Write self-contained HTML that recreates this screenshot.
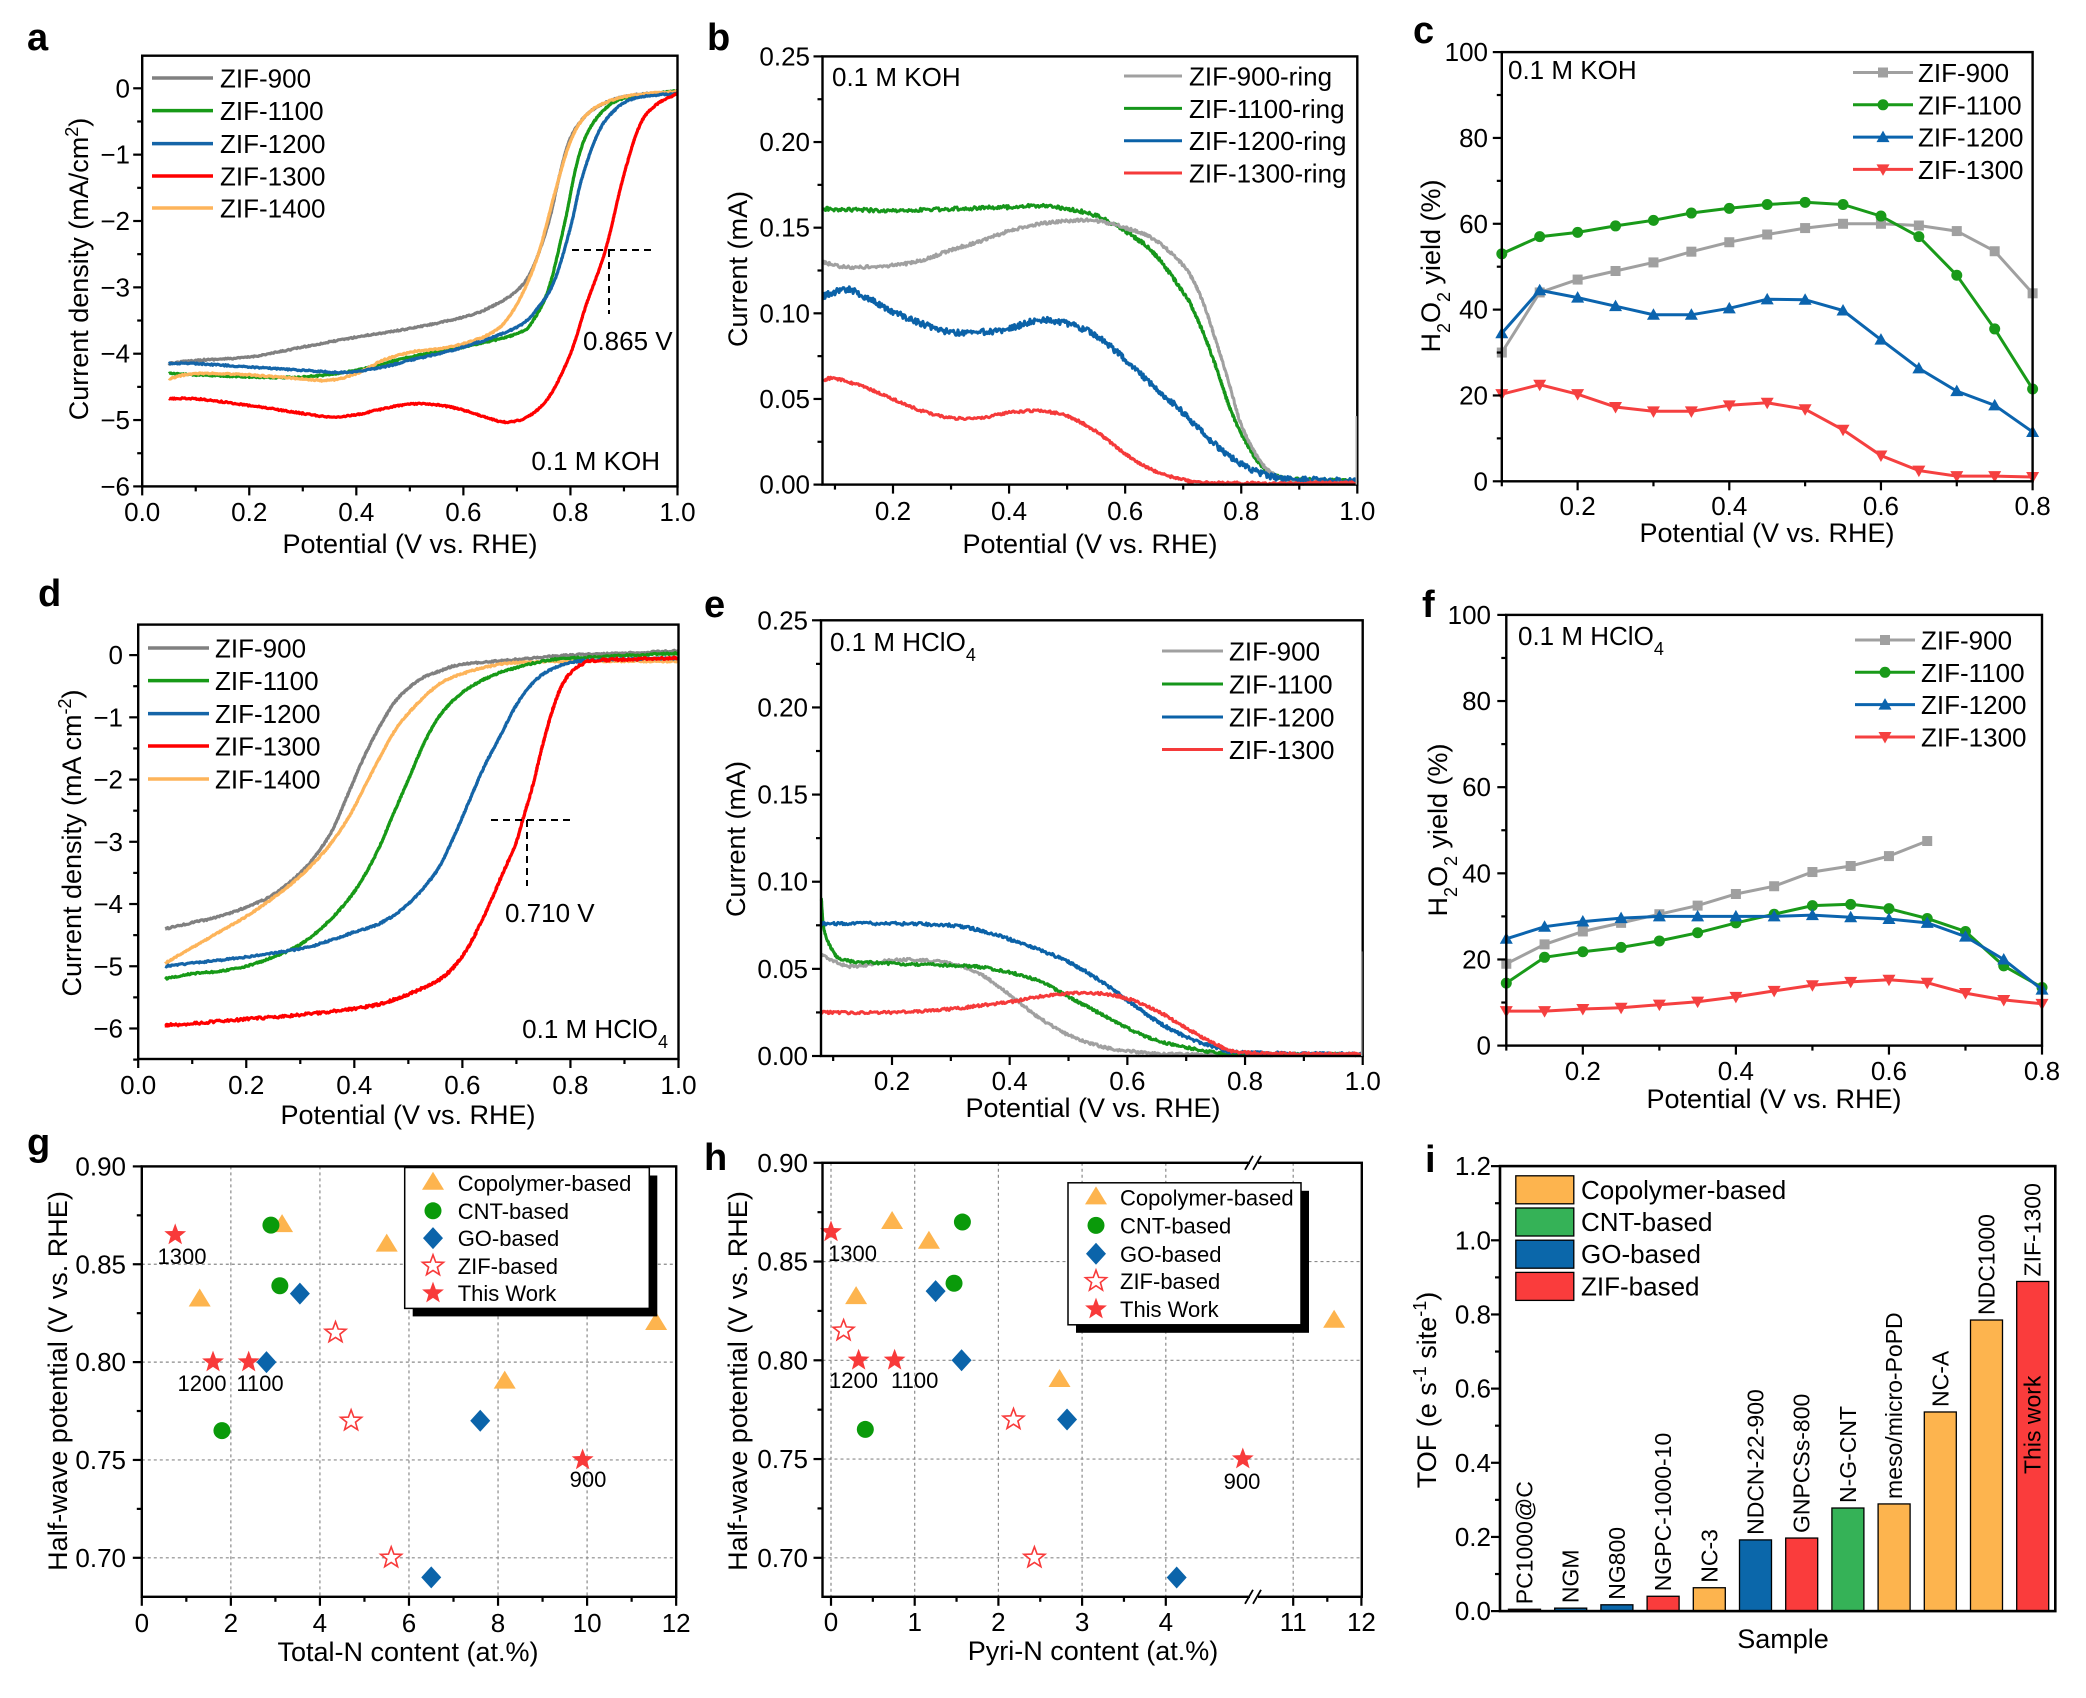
<!DOCTYPE html>
<html><head><meta charset="utf-8"><style>
html,body{margin:0;padding:0;background:#fff;}
svg{display:block;font-family:"Liberation Sans",Arial,sans-serif;}
</style></head><body>
<svg id="s" xmlns="http://www.w3.org/2000/svg" width="2086" height="1698" viewBox="0 0 2086 1698">
<rect width="2086" height="1698" fill="#fff"/>
</svg>
<script>
const NS='http://www.w3.org/2000/svg';const S=document.getElementById('s');
function E(t,a,p){const e=document.createElementNS(NS,t);for(const k in a)e.setAttribute(k,a[k]);(p||S).appendChild(e);return e;}
function L(x1,y1,x2,y2,c,w,d){const a={x1,y1,x2,y2,stroke:c||'#000','stroke-width':w||2.2};if(d)a['stroke-dasharray']=d;return E('line',a);}
function T(x,y,h,fs,anc,ex){const a=Object.assign({x,y,'font-size':fs,'text-anchor':anc||'start'},ex||{});const e=E('text',a);e.innerHTML=h;return e;}
function RT(bx,cy,h,fs,anc){const e=E('text',{transform:`translate(${bx},${cy}) rotate(-90)`,x:0,y:0,'font-size':fs,'text-anchor':anc||'middle'});e.innerHTML=h;return e;}
let seed=12345;function rnd(){seed=(seed*16807)%2147483647;return seed/2147483647;}
function P(l,r,t,b,X,Y){return {l,r,t,b,X,Y};}
function frame(p){E('rect',{x:p.l,y:p.t,width:p.r-p.l,height:p.b-p.t,fill:'none',stroke:'#000','stroke-width':2.4});}
function xt(p,maj,mino,lab,base){maj.forEach((v,i)=>{const x=p.X(v);L(x,p.b,x,p.b+9);T(x,base,lab[i],26,'middle');});mino.forEach(v=>{const x=p.X(v);L(x,p.b,x,p.b+5);});}
function yt(p,maj,mino,lab,rx){maj.forEach((v,i)=>{const y=p.Y(v);L(p.l-9,y,p.l,y);T(rx,y+9,lab[i],26,'end');});mino.forEach(v=>{const y=p.Y(v);L(p.l-5,y,p.l,y);});}
function cr(a,b,c,d,t){return 0.5*((2*b)+(-a+c)*t+(2*a-5*b+4*c-d)*t*t+(-a+3*b-3*c+d)*t*t*t);}
function curve(p,pts,col,noise,w){let d='';const n=pts.length;
 for(let i=0;i<n-1;i++){const p0=pts[Math.max(0,i-1)],p1=pts[i],p2=pts[i+1],p3=pts[Math.min(n-1,i+2)];
  const len=Math.abs(p.X(p2[0])-p.X(p1[0]))+Math.abs(p.Y(p2[1])-p.Y(p1[1]));const m=Math.max(2,Math.ceil(len/1.2));
  for(let k=0;k<m;k++){const t=k/m;const x=p.X(cr(p0[0],p1[0],p2[0],p3[0],t));const y=p.Y(cr(p0[1],p1[1],p2[1],p3[1],t))+(rnd()-0.5)*2*noise;
   d+=(d?'L':'M')+x.toFixed(1)+','+y.toFixed(1);}}
 d+='L'+p.X(pts[n-1][0]).toFixed(1)+','+p.Y(pts[n-1][1]).toFixed(1);
 E('path',{d,fill:'none',stroke:col,'stroke-width':w||3.2,'stroke-linejoin':'round'});}
function mark(type,x,y,col,s){s=s||1;
 if(type=='sq')E('rect',{x:x-5*s,y:y-5*s,width:10*s,height:10*s,fill:col});
 else if(type=='ci')E('circle',{cx:x,cy:y,r:5.5*s,fill:col});
 else if(type=='tu')E('polygon',{points:`${x},${y-6.5*s} ${x-6.5*s},${y+5*s} ${x+6.5*s},${y+5*s}`,fill:col});
 else if(type=='td')E('polygon',{points:`${x},${y+6.5*s} ${x-6.5*s},${y-5*s} ${x+6.5*s},${y-5*s}`,fill:col});}
function star(cx,cy,R,fill,stroke){let pts=[];for(let i=0;i<10;i++){const r=i%2?R*0.42:R;const a=-Math.PI/2+i*Math.PI/5;pts.push((cx+r*Math.cos(a)).toFixed(1)+','+(cy+r*Math.sin(a)).toFixed(1));}
 E('polygon',{points:pts.join(' '),fill:fill,stroke:stroke||'none','stroke-width':1.6});}
function series(p,xs,ys,col,type){const pts=ys.map((v,i)=>[xs[i],v]);
 E('polyline',{points:pts.map(q=>p.X(q[0]).toFixed(1)+','+p.Y(q[1]).toFixed(1)).join(' '),fill:'none',stroke:col,'stroke-width':3});
 pts.forEach(q=>mark(type,p.X(q[0]),p.Y(q[1]),col));}
function range(a,b,s){const r=[];for(let v=a;v<=b+1e-9;v+=s)r.push(+v.toFixed(4));return r;}
function bold(x,y,t){T(x,y,t,38,'start',{'font-weight':'bold'});}
const sub=s=>`<tspan baseline-shift="sub" font-size="18">${s}</tspan>`;
const sup=s=>`<tspan baseline-shift="super" font-size="18">${s}</tspan>`;

/* ---------- a ---------- */
{const p=P(142.2,677.5,55.7,486.4,v=>142.2+535.3*v,j=>88.3-66.35*j);
const C={g:'#808080',gr:'#179a17',b:'#1565a8',r:'#ff0000',o:'#fdb45a'};
curve(p,[[0.05,-4.15],[0.1,-4.1],[0.2,-4.05],[0.3,-3.9],[0.4,-3.75],[0.5,-3.62],[0.6,-3.45],[0.65,-3.3],[0.7,-3.05],[0.73,-2.7],[0.76,-2.0],[0.78,-1.3],[0.8,-0.75],[0.83,-0.4],[0.87,-0.2],[0.92,-0.1],[1.0,-0.05]],C.g,0.7);
curve(p,[[0.05,-4.3],[0.2,-4.35],[0.3,-4.35],[0.4,-4.25],[0.5,-4.05],[0.6,-3.9],[0.7,-3.7],[0.73,-3.5],[0.76,-3.0],[0.79,-2.0],[0.81,-1.2],[0.83,-0.7],[0.86,-0.35],[0.9,-0.15],[1.0,-0.04]],C.gr,0.7);
curve(p,[[0.05,-4.38],[0.1,-4.3],[0.2,-4.32],[0.3,-4.38],[0.35,-4.4],[0.4,-4.3],[0.45,-4.1],[0.5,-3.98],[0.55,-3.93],[0.6,-3.85],[0.65,-3.7],[0.68,-3.5],[0.71,-3.1],[0.74,-2.5],[0.77,-1.6],[0.8,-0.8],[0.83,-0.4],[0.87,-0.2],[0.92,-0.1],[1.0,-0.05]],C.o,0.7);
curve(p,[[0.05,-4.15],[0.1,-4.15],[0.2,-4.2],[0.3,-4.25],[0.38,-4.28],[0.45,-4.2],[0.5,-4.1],[0.6,-3.9],[0.7,-3.6],[0.74,-3.3],[0.77,-2.9],[0.8,-2.1],[0.82,-1.4],[0.85,-0.7],[0.88,-0.35],[0.92,-0.15],[1.0,-0.08]],C.b,0.7);
curve(p,[[0.05,-4.68],[0.1,-4.68],[0.2,-4.78],[0.3,-4.9],[0.35,-4.95],[0.4,-4.92],[0.45,-4.83],[0.5,-4.76],[0.55,-4.77],[0.6,-4.85],[0.65,-4.98],[0.68,-5.03],[0.72,-4.95],[0.76,-4.65],[0.8,-4.0],[0.83,-3.25],[0.865,-2.45],[0.9,-1.3],[0.93,-0.55],[0.96,-0.25],[1.0,-0.08]],C.r,0.7);
frame(p);
xt(p,[0,0.2,0.4,0.6,0.8,1.0],[0.1,0.3,0.5,0.7,0.9],['0.0','0.2','0.4','0.6','0.8','1.0'],521);
yt(p,[-6,-5,-4,-3,-2,-1,0],[-5.5,-4.5,-3.5,-2.5,-1.5,-0.5],['−6','−5','−4','−3','−2','−1','0'],130);
[['ZIF-900',C.g],['ZIF-1100',C.gr],['ZIF-1200',C.b],['ZIF-1300',C.r],['ZIF-1400',C.o]].forEach((e,i)=>{const y=[78,110.6,143.6,176,208][i];L(152,y,213,y,e[1],3.5);T(220,y+9.5,e[0],26);});
L(572,250,651,250,'#000',2,'7,5');L(609,250,609,314,'#000',2,'7,5');
T(583,350,'0.865 V',26);T(660,470,'0.1 M KOH',26,'end');
T(410,553,'Potential (V vs. RHE)',27,'middle');RT(88,269,'Current density (mA/cm'+sup('2')+')',27);
bold(27,50,'a');}

/* ---------- b ---------- */
{const p=P(822.5,1357.3,56.4,484.6,v=>893+580.4*(v-0.2),i=>484.6-1712.8*i);
const C={g:'#a0a0a0',gr:'#16961b',b:'#0b62a8',r:'#f53a3a'};
curve(p,[[0.08,0.161],[0.2,0.160],[0.3,0.161],[0.4,0.162],[0.45,0.163],[0.5,0.161],[0.55,0.157],[0.6,0.148],[0.65,0.135],[0.7,0.112],[0.72,0.10],[0.75,0.075],[0.78,0.045],[0.8,0.03],[0.83,0.013],[0.86,0.005],[0.9,0.003],[1.0,0.002]],C.gr,1.8,3);
curve(p,[[0.08,0.13],[0.12,0.127],[0.2,0.128],[0.25,0.131],[0.3,0.137],[0.35,0.142],[0.4,0.148],[0.45,0.152],[0.5,0.154],[0.55,0.154],[0.6,0.150],[0.65,0.143],[0.7,0.128],[0.73,0.11],[0.76,0.08],[0.78,0.058],[0.8,0.035],[0.83,0.015],[0.86,0.005],[0.9,0.002],[1.0,0.002]],C.g,1.5,3);
curve(p,[[0.08,0.11],[0.12,0.114],[0.15,0.11],[0.2,0.101],[0.25,0.094],[0.3,0.089],[0.35,0.089],[0.4,0.091],[0.45,0.096],[0.5,0.094],[0.55,0.087],[0.6,0.073],[0.65,0.057],[0.7,0.042],[0.75,0.025],[0.8,0.012],[0.85,0.005],[0.9,0.003],[1.0,0.002]],C.b,3,3);
curve(p,[[0.08,0.061],[0.1,0.062],[0.15,0.057],[0.2,0.05],[0.25,0.043],[0.3,0.039],[0.35,0.039],[0.4,0.042],[0.45,0.043],[0.5,0.04],[0.55,0.031],[0.6,0.018],[0.65,0.008],[0.7,0.003],[0.75,0.001],[1.0,0.001]],C.r,1.2,3);
frame(p);L(p.r-1,p.Y(0),p.r-1,p.Y(0.04),C.g,1.5);
xt(p,[0.2,0.4,0.6,0.8,1.0],[0.1,0.3,0.5,0.7,0.9],['0.2','0.4','0.6','0.8','1.0'],520);
yt(p,[0,0.05,0.1,0.15,0.2,0.25],[0.025,0.075,0.125,0.175,0.225],['0.00','0.05','0.10','0.15','0.20','0.25'],810);
[['ZIF-900-ring',C.g],['ZIF-1100-ring',C.gr],['ZIF-1200-ring',C.b],['ZIF-1300-ring',C.r]].forEach((e,i)=>{const y=[76,108.4,140.7,173][i];L(1124,y,1182,y,e[1],3);T(1189,y+9.5,e[0],26);});
T(832,86,'0.1 M KOH',26);
T(1090,553,'Potential (V vs. RHE)',27,'middle');RT(747,269,'Current (mA)',27);
bold(707,50,'b');}

/* ---------- c ---------- */
{const p=P(1501.8,2032.6,52.1,481.3,v=>1501.8+758.3*(v-0.1),q=>52.1+(100-q)*4.292);
const C={g:'#a0a0a0',gr:'#199a19',b:'#0b64ae',r:'#f54040'};const xs=range(0.1,0.8,0.05);
series(p,xs,[30,44,47,49,51,53.5,55.7,57.5,59,60,60,59.6,58.3,53.6,43.8],C.g,'sq');
series(p,xs,[53,57,58,59.5,60.8,62.5,63.6,64.5,65,64.5,61.8,57,48,35.5,21.5],C.gr,'ci');
series(p,xs,[34.5,44.5,42.8,40.8,38.8,38.8,40.3,42.4,42.3,39.8,33,26.3,21,17.7,11.5],C.b,'tu');
series(p,xs,[20.3,22.5,20.3,17.3,16.3,16.3,17.7,18.3,16.8,12,6,2.5,1.2,1.2,1.0],C.r,'td');
frame(p);
xt(p,[0.2,0.4,0.6,0.8],[0.1,0.3,0.5,0.7],['0.2','0.4','0.6','0.8'],515);
yt(p,[0,20,40,60,80,100],[10,30,50,70,90],['0','20','40','60','80','100'],1488);
[['ZIF-900',C.g,'sq'],['ZIF-1100',C.gr,'ci'],['ZIF-1200',C.b,'tu'],['ZIF-1300',C.r,'td']].forEach((e,i)=>{const y=[72.5,104.8,137.1,169.4][i];L(1853,y,1913,y,e[1],3);mark(e[2],1883,y,e[1]);T(1918,y+9.5,e[0],26);});
T(1508,79,'0.1 M KOH',26);
T(1767,542,'Potential (V vs. RHE)',27,'middle');RT(1440,266,'H'+sub('2')+'O'+sub('2')+' yield (%)',27);
bold(1413,43,'c');}

/* ---------- d ---------- */
{const p=P(138.2,678.5,624.6,1059,v=>138.2+540.3*v,j=>655.1-62.23*j);
const C={g:'#808080',gr:'#179a17',b:'#1565a8',r:'#ff0000',o:'#fdb45a'};
curve(p,[[0.05,-4.4],[0.1,-4.3],[0.15,-4.2],[0.2,-4.05],[0.25,-3.85],[0.3,-3.5],[0.33,-3.2],[0.36,-2.8],[0.39,-2.2],[0.42,-1.6],[0.45,-1.1],[0.48,-0.7],[0.52,-0.4],[0.56,-0.25],[0.6,-0.15],[0.7,-0.07],[0.8,0],[0.9,0.03],[1.0,0.07]],C.g,0.8);
curve(p,[[0.05,-4.95],[0.1,-4.7],[0.15,-4.45],[0.2,-4.2],[0.25,-3.9],[0.3,-3.55],[0.35,-3.1],[0.39,-2.6],[0.42,-2.1],[0.45,-1.6],[0.48,-1.15],[0.52,-0.75],[0.56,-0.45],[0.6,-0.3],[0.65,-0.18],[0.7,-0.12],[0.8,-0.1],[1.0,-0.1]],C.o,0.7);
curve(p,[[0.05,-5.2],[0.1,-5.12],[0.15,-5.08],[0.2,-5.0],[0.25,-4.85],[0.3,-4.65],[0.35,-4.3],[0.4,-3.8],[0.44,-3.2],[0.47,-2.6],[0.5,-2.0],[0.53,-1.4],[0.56,-0.95],[0.6,-0.6],[0.65,-0.35],[0.7,-0.2],[0.75,-0.1],[0.8,-0.05],[1.0,0.03]],C.gr,0.8);
curve(p,[[0.05,-5.0],[0.1,-4.95],[0.2,-4.85],[0.3,-4.72],[0.35,-4.6],[0.4,-4.45],[0.45,-4.3],[0.5,-4.0],[0.55,-3.5],[0.58,-3.0],[0.61,-2.4],[0.64,-1.8],[0.67,-1.3],[0.7,-0.8],[0.73,-0.45],[0.76,-0.25],[0.8,-0.12],[0.85,-0.08],[1.0,-0.05]],C.b,0.8);
curve(p,[[0.05,-5.95],[0.1,-5.92],[0.2,-5.85],[0.3,-5.78],[0.4,-5.68],[0.45,-5.6],[0.5,-5.45],[0.55,-5.25],[0.58,-5.05],[0.61,-4.7],[0.64,-4.2],[0.67,-3.6],[0.7,-3.0],[0.71,-2.7],[0.73,-2.1],[0.75,-1.4],[0.77,-0.8],[0.79,-0.4],[0.82,-0.15],[0.86,-0.08],[1.0,-0.05]],C.r,1.3);
frame(p);
xt(p,[0,0.2,0.4,0.6,0.8,1.0],[0.1,0.3,0.5,0.7,0.9],['0.0','0.2','0.4','0.6','0.8','1.0'],1094);
yt(p,[-6,-5,-4,-3,-2,-1,0],[-6.5,-5.5,-4.5,-3.5,-2.5,-1.5,-0.5],['−6','−5','−4','−3','−2','−1','0'],123);
[['ZIF-900',C.g],['ZIF-1100',C.gr],['ZIF-1200',C.b],['ZIF-1300',C.r],['ZIF-1400',C.o]].forEach((e,i)=>{const y=[648,680.6,713.6,746,779][i];L(148,y,209,y,e[1],3.5);T(215,y+9.5,e[0],26);});
L(491,820,570,820,'#000',2,'7,5');L(527,820,527,886,'#000',2,'7,5');
T(505,922,'0.710 V',26);T(668,1038,'0.1 M HClO'+sub('4'),26,'end');
T(408,1124,'Potential (V vs. RHE)',27,'middle');RT(81,843,'Current density (mA cm'+sup('-2')+')',27);
bold(38,606,'d');}

/* ---------- e ---------- */
{const p=P(821,1362.7,620.3,1056,v=>892+588.4*(v-0.2),i=>1056-1742.8*i);
const C={g:'#a0a0a0',gr:'#16961b',b:'#0b62a8',r:'#f53a3a'};
curve(p,[[0.08,0.058],[0.12,0.052],[0.15,0.052],[0.2,0.055],[0.25,0.055],[0.3,0.053],[0.35,0.047],[0.4,0.035],[0.45,0.022],[0.5,0.012],[0.55,0.006],[0.6,0.003],[0.7,0.001],[1.0,0.001]],C.g,1.3,3);
curve(p,[[0.08,0.09],[0.085,0.072],[0.1,0.06],[0.12,0.055],[0.2,0.053],[0.3,0.052],[0.35,0.051],[0.4,0.048],[0.45,0.043],[0.5,0.034],[0.55,0.025],[0.6,0.016],[0.65,0.009],[0.7,0.005],[0.75,0.002],[0.8,0.001],[1.0,0.001]],C.gr,1.3,3);
curve(p,[[0.08,0.076],[0.1,0.076],[0.2,0.076],[0.3,0.075],[0.35,0.072],[0.4,0.067],[0.45,0.061],[0.5,0.054],[0.55,0.044],[0.6,0.032],[0.65,0.02],[0.7,0.011],[0.75,0.005],[0.8,0.002],[1.0,0.001]],C.b,1.5,3);
curve(p,[[0.08,0.025],[0.2,0.025],[0.3,0.027],[0.35,0.029],[0.4,0.031],[0.45,0.034],[0.5,0.036],[0.55,0.036],[0.6,0.033],[0.65,0.026],[0.7,0.016],[0.75,0.007],[0.8,0.002],[1.0,0.001]],C.r,1.3,3);
frame(p);L(p.r-1,p.Y(0),p.r-1,p.Y(0.06),C.g,1.5);
xt(p,[0.2,0.4,0.6,0.8,1.0],[0.1,0.3,0.5,0.7,0.9],['0.2','0.4','0.6','0.8','1.0'],1090);
yt(p,[0,0.05,0.1,0.15,0.2,0.25],[0.025,0.075,0.125,0.175,0.225],['0.00','0.05','0.10','0.15','0.20','0.25'],808);
[['ZIF-900',C.g],['ZIF-1100',C.gr],['ZIF-1200',C.b],['ZIF-1300',C.r]].forEach((e,i)=>{const y=[651,684,717,749.5][i];L(1162,y,1223,y,e[1],3);T(1229,y+9.5,e[0],26);});
T(830,651,'0.1 M HClO'+sub('4'),26);
T(1093,1117,'Potential (V vs. RHE)',27,'middle');RT(745,839,'Current (mA)',27);
bold(704,617,'e');}

/* ---------- f ---------- */
{const p=P(1506.3,2042,614.9,1045.6,v=>1506.3+765.3*(v-0.1),q=>1045.6-4.307*q);
const C={g:'#a0a0a0',gr:'#199a19',b:'#0b64ae',r:'#f54040'};const xs=range(0.1,0.8,0.05);
series(p,xs.slice(0,12),[19,23.5,26.5,28.5,30.5,32.5,35.2,37,40.3,41.7,44,47.5],C.g,'sq');
series(p,xs,[14.5,20.5,21.8,22.8,24.3,26.2,28.5,30.5,32.5,32.8,31.8,29.5,26.5,18.5,13.5],C.gr,'ci');
series(p,xs,[24.8,27.6,28.8,29.6,30,30,30,30,30.3,29.8,29.4,28.5,25.3,20,13],C.b,'tu');
series(p,xs,[8,8,8.5,8.8,9.5,10.2,11.3,12.7,14,14.8,15.3,14.6,12.2,10.6,9.7],C.r,'td');
frame(p);
xt(p,[0.2,0.4,0.6,0.8],[0.1,0.3,0.5,0.7],['0.2','0.4','0.6','0.8'],1080);
yt(p,[0,20,40,60,80,100],[10,30,50,70,90],['0','20','40','60','80','100'],1491);
[['ZIF-900',C.g,'sq'],['ZIF-1100',C.gr,'ci'],['ZIF-1200',C.b,'tu'],['ZIF-1300',C.r,'td']].forEach((e,i)=>{const y=[640,672.3,704.6,737][i];L(1855,y,1915,y,e[1],3);mark(e[2],1885,y,e[1]);T(1921,y+9.5,e[0],26);});
T(1518,645,'0.1 M HClO'+sub('4'),26);
T(1774,1108,'Potential (V vs. RHE)',27,'middle');RT(1447,830,'H'+sub('2')+'O'+sub('2')+' yield (%)',27);
bold(1422,617,'f');}

/* ---------- g & h markers ---------- */
const OR='#fdb44e',GR='#0a9a0a',BL='#0b64aa',RD='#f83a3a';
function tri(x,y){E('polygon',{points:`${x},${y-11} ${x-11},${y+7} ${x+11},${y+7}`,fill:OR});}
function cir(x,y){E('circle',{cx:x,cy:y,r:8.5,fill:GR});}
function dia(x,y){E('polygon',{points:`${x},${y-11} ${x+10},${y} ${x},${y+11} ${x-10},${y}`,fill:BL});}
function ost(x,y){star(x,y,11,'#fff',RD);}function fst(x,y){star(x,y,11.5,RD);}
function legendBox(x1,y1,x2,y2,mx,tx,rows){E('rect',{x:x1+8,y:y1+8,width:x2-x1,height:y2-y1,fill:'#000'});E('rect',{x:x1,y:y1,width:x2-x1,height:y2-y1,fill:'#fff',stroke:'#000','stroke-width':1.5});
 const names=['Copolymer-based','CNT-based','GO-based','ZIF-based','This Work'];const fns=[tri,cir,dia,ost,fst];
 rows.forEach((y,i)=>{fns[i](mx,y);T(tx,y+8,names[i],22);});}
function grid(p,xs,ys){xs.forEach(v=>L(p.X(v),p.t,p.X(v),p.b,'#8a8a8a',1.2,'3,3'));ys.forEach(v=>L(p.l,p.Y(v),p.r,p.Y(v),'#8a8a8a',1.2,'3,3'));}

/* ---------- g ---------- */
{const p=P(141.8,676.2,1166.4,1596.8,n=>141.8+44.53*n,v=>1166.4+(0.9-v)*1957);
grid(p,[2,4,6,8,10],[0.85,0.8,0.75,0.7]);
[[1.3,0.832],[3.15,0.870],[5.5,0.860],[8.15,0.790],[11.55,0.820]].forEach(q=>tri(p.X(q[0]),p.Y(q[1])));
[[2.9,0.870],[3.1,0.839],[1.8,0.765]].forEach(q=>cir(p.X(q[0]),p.Y(q[1])));
[[3.55,0.835],[2.8,0.800],[7.6,0.770],[6.5,0.690]].forEach(q=>dia(p.X(q[0]),p.Y(q[1])));
[[4.35,0.815],[4.7,0.770],[5.6,0.700]].forEach(q=>ost(p.X(q[0]),p.Y(q[1])));
[[0.75,0.865],[1.6,0.800],[2.4,0.800],[9.9,0.750]].forEach(q=>fst(p.X(q[0]),p.Y(q[1])));
T(182,1264,'1300',22,'middle');T(202,1391,'1200',22,'middle');T(260,1391,'1100',22,'middle');T(588,1487,'900',22,'middle');
legendBox(404.7,1167.5,649.3,1308.4,433,457.7,[1182.8,1210.8,1238.1,1265.8,1293.1]);
frame(p);
xt(p,[0,2,4,6,8,10,12],[1,3,5,7,9,11],['0','2','4','6','8','10','12'],1632);
yt(p,[0.7,0.75,0.8,0.85,0.9],[0.725,0.775,0.825,0.875],['0.70','0.75','0.80','0.85','0.90'],126);
T(408,1661,'Total-N content (at.%)',27,'middle');RT(67,1381,'Half-wave potential (V vs. RHE)',27);
bold(27,1155,'g');}

/* ---------- h ---------- */
{const X=n=>n<=6?831+83.7*n:1293.2+68.2*(n-11);
const p=P(822.5,1361.8,1162.8,1596.8,X,v=>1162.8+(0.9-v)*1975);
grid(p,[0,1,2,3,4,11],[0.85,0.8,0.75,0.7]);
[[0.73,0.870],[1.17,0.860],[0.3,0.832],[2.73,0.790],[11.6,0.820]].forEach(q=>tri(p.X(q[0]),p.Y(q[1])));
[[1.57,0.870],[1.47,0.839],[0.41,0.765]].forEach(q=>cir(p.X(q[0]),p.Y(q[1])));
[[1.25,0.835],[1.56,0.800],[2.82,0.770],[4.13,0.690]].forEach(q=>dia(p.X(q[0]),p.Y(q[1])));
[[0.15,0.815],[2.18,0.770],[2.43,0.700]].forEach(q=>ost(p.X(q[0]),p.Y(q[1])));
[[0,0.865],[0.33,0.800],[0.76,0.800],[4.92,0.750]].forEach(q=>fst(p.X(q[0]),p.Y(q[1])));
T(828,1261,'1300',22);T(829,1388,'1200',22);T(891,1388,'1100',22);T(1242,1489,'900',22,'middle');
legendBox(1068,1182.8,1301,1324.8,1096,1120,[1197.4,1225.4,1253.8,1281.1,1309.1]);
frame(p);
E('rect',{x:1250,y:p.t-4,width:8,height:8,fill:'#fff'});E('rect',{x:1250,y:p.b-4,width:8,height:8,fill:'#fff'});
[p.t,p.b].forEach(y=>{L(1245,y+7,1253,y-7,'#000',1.8);L(1253,y+7,1261,y-7,'#000',1.8);});
xt(p,[0,1,2,3,4,11,12],[0.5,1.5,2.5,3.5,11.5],['0','1','2','3','4','11','12'],1631);
yt(p,[0.7,0.75,0.8,0.85,0.9],[0.725,0.775,0.825,0.875],['0.70','0.75','0.80','0.85','0.90'],808);
T(1093,1660,'Pyri-N content (at.%)',27,'middle');RT(747,1381,'Half-wave potential (V vs. RHE)',27);
bold(704,1170,'h');}

/* ---------- i ---------- */
{const p=P(1500,2055.3,1166.1,1611.1,n=>n,v=>1611.1-370.8*v);
const O='#fdb44e',G='#35b257',B='#0b67aa',R='#fa3c3c';
const vals=[0.005,0.008,0.017,0.04,0.063,0.192,0.197,0.278,0.289,0.537,0.785,0.889];
const cols=[R,B,B,R,O,B,R,G,O,O,O,R];
const names=['PC1000@C','NGM','NG800','NGPC-1000-10','NC-3','NDCN-22-900','GNPCSs-800','N-G-CNT','meso/micro-PoPD','NC-A','NDC1000','ZIF-1300'];
vals.forEach((v,i)=>{const x=1508.5+46.2*i,y=p.Y(v);E('rect',{x,y,width:32,height:p.b-y,fill:cols[i],stroke:'#000','stroke-width':1.3});
 RT(x+16+8,y-5,names[i],23,'start');});
RT(1508.5+46.2*11+16+8,1474,'This work',23,'start');
E('rect',{x:p.l,y:p.t,width:p.r-p.l,height:p.b-p.t,fill:'none',stroke:'#000','stroke-width':2.6});
yt(p,[0,0.2,0.4,0.6,0.8,1.0,1.2],[0.1,0.3,0.5,0.7,0.9,1.1],['0.0','0.2','0.4','0.6','0.8','1.0','1.2'],1491);
[[O,'Copolymer-based',1175.8],[G,'CNT-based',1208],[B,'GO-based',1240.2],[R,'ZIF-based',1272.4]].forEach(e=>{E('rect',{x:1515.8,y:e[2],width:58,height:28,fill:e[0],stroke:'#000','stroke-width':1.3});T(1581,e[2]+23,e[1],26);});
T(1783,1648,'Sample',27,'middle');RT(1436,1390,'TOF (e s'+sup('-1')+' site'+sup('-1')+')',27);
bold(1425,1172,'i');}
</script>
</body></html>
